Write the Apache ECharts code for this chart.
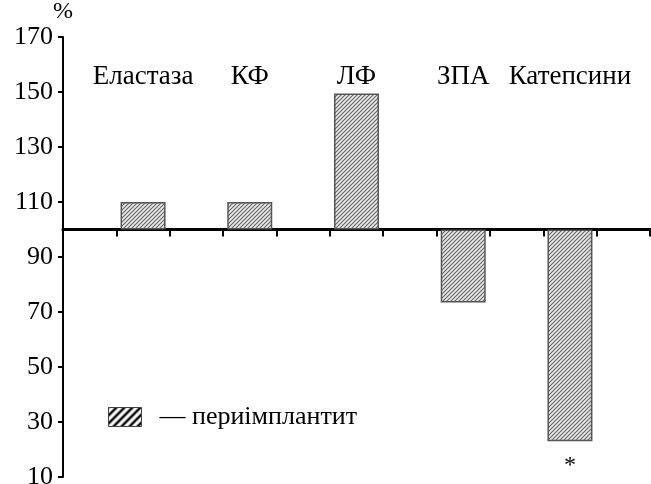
<!DOCTYPE html>
<html>
<head>
<meta charset="utf-8">
<script src="https://cdn.jsdelivr.net/npm/echarts@6/dist/echarts.min.js"></script>
<style>html,body{margin:0;padding:0;background:#fff;}#c{width:651px;height:484px;}</style>
</head>
<body>
<div id="c"></div>
<script>
// ---- data ----
const categories = ['Еластаза', 'КФ', 'ЛФ', 'ЗПА', 'Катепсини'];
const values = [110, 110, 149.5, 73.5, 23];      // % of control
const baseline = 100;                             // bars grow from 100 %
const yTicks = [10, 30, 50, 70, 90, 110, 130, 150, 170];
const seriesName = 'периімплантит';
const starred = [false, false, false, false, true];

// ---- patterns ----
function hatch(size, lineW, color, bg) {
  const c = document.createElement('canvas');
  c.width = size; c.height = size;
  const g = c.getContext('2d');
  g.fillStyle = bg; g.fillRect(0, 0, size, size);
  g.strokeStyle = color; g.lineWidth = lineW;
  g.beginPath();
  g.moveTo(-1, size + 1); g.lineTo(size + 1, -1);
  g.moveTo(-1, 1); g.lineTo(1, -1);
  g.moveTo(size - 1, size + 1); g.lineTo(size + 1, size - 1);
  g.stroke();
  return c;
}
const barPattern = { image: hatch(4, 1.2, '#666', '#ececec'), repeat: 'repeat' };
const legendPattern = { image: hatch(8, 2.4, '#000', '#fff'), repeat: 'repeat' };

// ---- build slots: empty category between bars ----
const slots = [''];
const barData = ['-'];
categories.forEach((c, i) => {
  slots.push(c);
  const item = { value: values[i] - baseline };
  if (starred[i]) {
    item.label = { show: true, formatter: '*', position: 'bottom', distance: 12,
      fontSize: 24, color: '#000', fontFamily: 'Liberation Serif' };
  }
  barData.push(item);
  slots.push('');
  barData.push('-');
});

const font = 'Liberation Serif';
const tickVals = yTicks.map(v => v - baseline);

const chart = echarts.init(document.getElementById('c'), null, { renderer: 'canvas' });
chart.setOption({
  backgroundColor: '#fff',
  animation: false,
  grid: { left: 63, right: 1, top: 37, bottom: 7, containLabel: false, outerBoundsMode: 'none' },
  legend: {
    left: 108, top: 404, padding: 0,
    itemWidth: 33, itemHeight: 19,
    icon: 'rect',
    data: [{ name: seriesName, icon: 'rect', itemStyle: { color: legendPattern, borderColor: '#444', borderWidth: 1 } }],
    formatter: n => '  — ' + n,
    textStyle: { fontFamily: font, fontSize: 26, color: '#000' }
  },
  xAxis: [{
    type: 'category', data: slots, position: 'bottom',
    axisLine: { onZero: true, lineStyle: { color: '#000', width: 3 } },
    axisTick: { show: true, interval: 0, length: 7, lineStyle: { color: '#000', width: 2 } },
    axisLabel: { show: false }, splitLine: { show: false }
  }, {
    type: 'category', data: slots, position: 'top',
    axisLine: { show: false }, axisTick: { show: false },
    axisLabel: { show: true, inside: true, interval: 0, margin: 26,
      fontFamily: font, fontSize: 27, color: '#000' },
    splitLine: { show: false }
  }],
  yAxis: {
    type: 'value', min: -90, max: 70,
    name: '%', nameLocation: 'end', nameGap: 25,
    nameTextStyle: { fontFamily: font, fontSize: 24, color: '#000', verticalAlign: 'middle', align: 'center' },
    axisLine: { show: true, onZero: false, lineStyle: { color: '#000', width: 2 } },
    axisTick: { show: true, customValues: tickVals, length: 5, lineStyle: { color: '#000', width: 2 } },
    axisLabel: { customValues: tickVals, formatter: v => String(v + baseline), margin: 10,
      fontFamily: font, fontSize: 26, color: '#000' },
    splitLine: { show: false }
  },
  series: [{
    name: seriesName, type: 'bar', xAxisIndex: 0, data: barData,
    barWidth: 45,
    itemStyle: { color: barPattern, borderColor: '#555', borderWidth: 1.5 }
  }]
});
</script>
</body>
</html>
